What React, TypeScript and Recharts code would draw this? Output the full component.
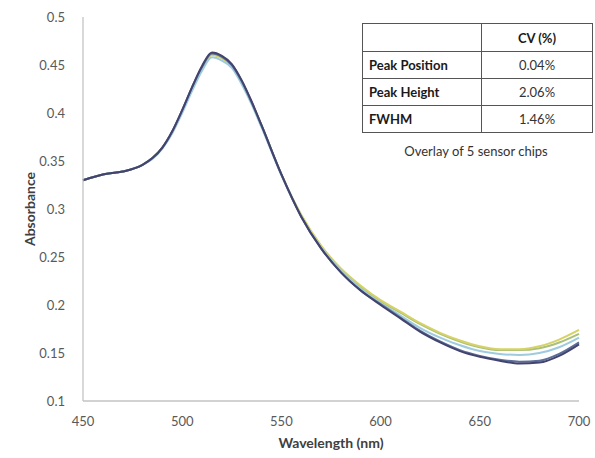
import React from "react";
import { LineChart, Line, XAxis, YAxis, Label } from "recharts";

// Wavelength grid (nm)
const wavelengths = [
  450, 460, 470, 480, 485, 490, 495, 500, 505, 510, 515, 520, 525, 530, 535, 540,
  550, 560, 570, 580, 590, 600, 610, 620, 630, 640, 650, 660, 670, 680, 690, 700,
];

// Absorbance spectra of the five sensor chips
const chip1 = [
  0.330, 0.336, 0.339, 0.346, 0.353, 0.364, 0.381, 0.403, 0.427, 0.449, 0.4630, 0.4595,
  0.451, 0.434, 0.412, 0.387, 0.336, 0.292, 0.259, 0.234, 0.215, 0.200, 0.186, 0.172,
  0.161, 0.152, 0.146, 0.142, 0.139, 0.140, 0.147, 0.159,
];
const chip2 = [
  0.330, 0.336, 0.339, 0.346, 0.353, 0.364, 0.381, 0.403, 0.427, 0.448, 0.4620, 0.4585,
  0.450, 0.433, 0.411, 0.387, 0.336, 0.292, 0.259, 0.234, 0.215, 0.201, 0.187, 0.173,
  0.162, 0.153, 0.147, 0.143, 0.141, 0.142, 0.149, 0.161,
];
const chip3 = [
  0.330, 0.336, 0.339, 0.346, 0.352, 0.363, 0.379, 0.400, 0.423, 0.444, 0.4580, 0.4545,
  0.447, 0.430, 0.409, 0.385, 0.335, 0.292, 0.260, 0.236, 0.217, 0.202, 0.189, 0.176,
  0.166, 0.158, 0.152, 0.149, 0.148, 0.150, 0.156, 0.166,
];
const chip4 = [
  0.330, 0.336, 0.339, 0.346, 0.353, 0.364, 0.380, 0.402, 0.426, 0.447, 0.4610, 0.4575,
  0.450, 0.433, 0.411, 0.387, 0.336, 0.293, 0.261, 0.237, 0.219, 0.204, 0.192, 0.180,
  0.170, 0.162, 0.156, 0.153, 0.153, 0.155, 0.161, 0.170,
];
const chip5 = [
  0.330, 0.336, 0.339, 0.346, 0.353, 0.364, 0.380, 0.402, 0.426, 0.447, 0.4605, 0.4570,
  0.449, 0.432, 0.411, 0.387, 0.336, 0.294, 0.262, 0.238, 0.220, 0.205, 0.193, 0.181,
  0.171, 0.163, 0.157, 0.154, 0.154, 0.157, 0.164, 0.174,
];

const xTicks = [450, 500, 550, 600, 650, 700];
const yTicks = [0.1, 0.15, 0.2, 0.25, 0.3, 0.35, 0.4, 0.45, 0.5];

// Summary table
const tableHeader = "CV (%)";
const tableRows = ["Peak Position", "Peak Height", "FWHM"];
const tableValues = ["0.04%", "2.06%", "1.46%"];
const tableCaption = "Overlay of 5 sensor chips";

const seriesList = [
  { key: "chip4", values: chip4, color: "#a9c07a" },
  { key: "chip5", values: chip5, color: "#d6d266" },
  { key: "chip3", values: chip3, color: "#9ecbdd" },
  { key: "chip2", values: chip2, color: "#5a6e98" },
  { key: "chip1", values: chip1, color: "#43436f" },
];

const data = wavelengths.map((w, i) => {
  const row: Record<string, number> = { wavelength: w };
  seriesList.forEach((s) => {
    row[s.key] = s.values[i];
  });
  return row;
});

const FONT = "Lato, 'Open Sans', sans-serif";

const cellBorder = "1.5px solid #555";

export default function App() {
  return (
    <div style={{ position: "absolute", left: 0, top: 0, width: 595, height: 458, background: "#fff" }}>
      <LineChart
        width={595}
        height={458}
        data={data}
        margin={{ top: 17, right: 16, bottom: 32, left: 23 }}
      >
        <XAxis
          dataKey="wavelength"
          type="number"
          domain={[450, 700]}
          ticks={xTicks}
          tickLine={false}
          axisLine={{ stroke: "#a6a6a6", strokeWidth: 1.2 }}
          tick={{ fill: "#595959", fontSize: 13, fontFamily: FONT }}
          tickMargin={10}
          height={25}
        >
          <Label
            value="Wavelength (nm)"
            position="bottom"
            offset={12}
            style={{ fill: "#404040", fontSize: 14, fontWeight: 700, fontFamily: FONT }}
          />
        </XAxis>
        <YAxis
          type="number"
          domain={[0.1, 0.5]}
          ticks={yTicks}
          tickLine={false}
          axisLine={{ stroke: "#bfbfbf", strokeWidth: 1.2 }}
          tick={{ fill: "#595959", fontSize: 13, fontFamily: FONT }}
          tickMargin={12}
          width={60}
        >
          <Label
            value="Absorbance"
            angle={-90}
            position="insideLeft"
            offset={7}
            style={{ fill: "#404040", fontSize: 14, fontWeight: 700, fontFamily: FONT, textAnchor: "middle" }}
          />
        </YAxis>
        {seriesList.map((s) => (
          <Line
            key={s.key}
            dataKey={s.key}
            type="monotone"
            stroke={s.color}
            strokeWidth={2}
            dot={false}
            isAnimationActive={false}
          />
        ))}
      </LineChart>

      <div style={{ position: "absolute", left: 362, top: 23, fontFamily: FONT, color: "#1a1a1a" }}>
        <table
          style={{
            borderCollapse: "collapse",
            fontSize: 13,
            width: 231,
            border: cellBorder,
          }}
        >
          <tbody>
            <tr style={{ height: 28 }}>
              <td style={{ border: cellBorder, width: 116 }}></td>
              <td style={{ border: cellBorder, textAlign: "center", fontWeight: 700 }}>{tableHeader}</td>
            </tr>
            {tableRows.map((r, i) => (
              <tr key={r} style={{ height: 27 }}>
                <td style={{ border: cellBorder, fontWeight: 700, paddingLeft: 6 }}>{r}</td>
                <td style={{ border: cellBorder, textAlign: "center", color: "#333" }}>{tableValues[i]}</td>
              </tr>
            ))}
          </tbody>
        </table>
        <div style={{ width: 228, textAlign: "center", fontSize: 13, marginTop: 10, color: "#333" }}>
          {tableCaption}
        </div>
      </div>
    </div>
  );
}
